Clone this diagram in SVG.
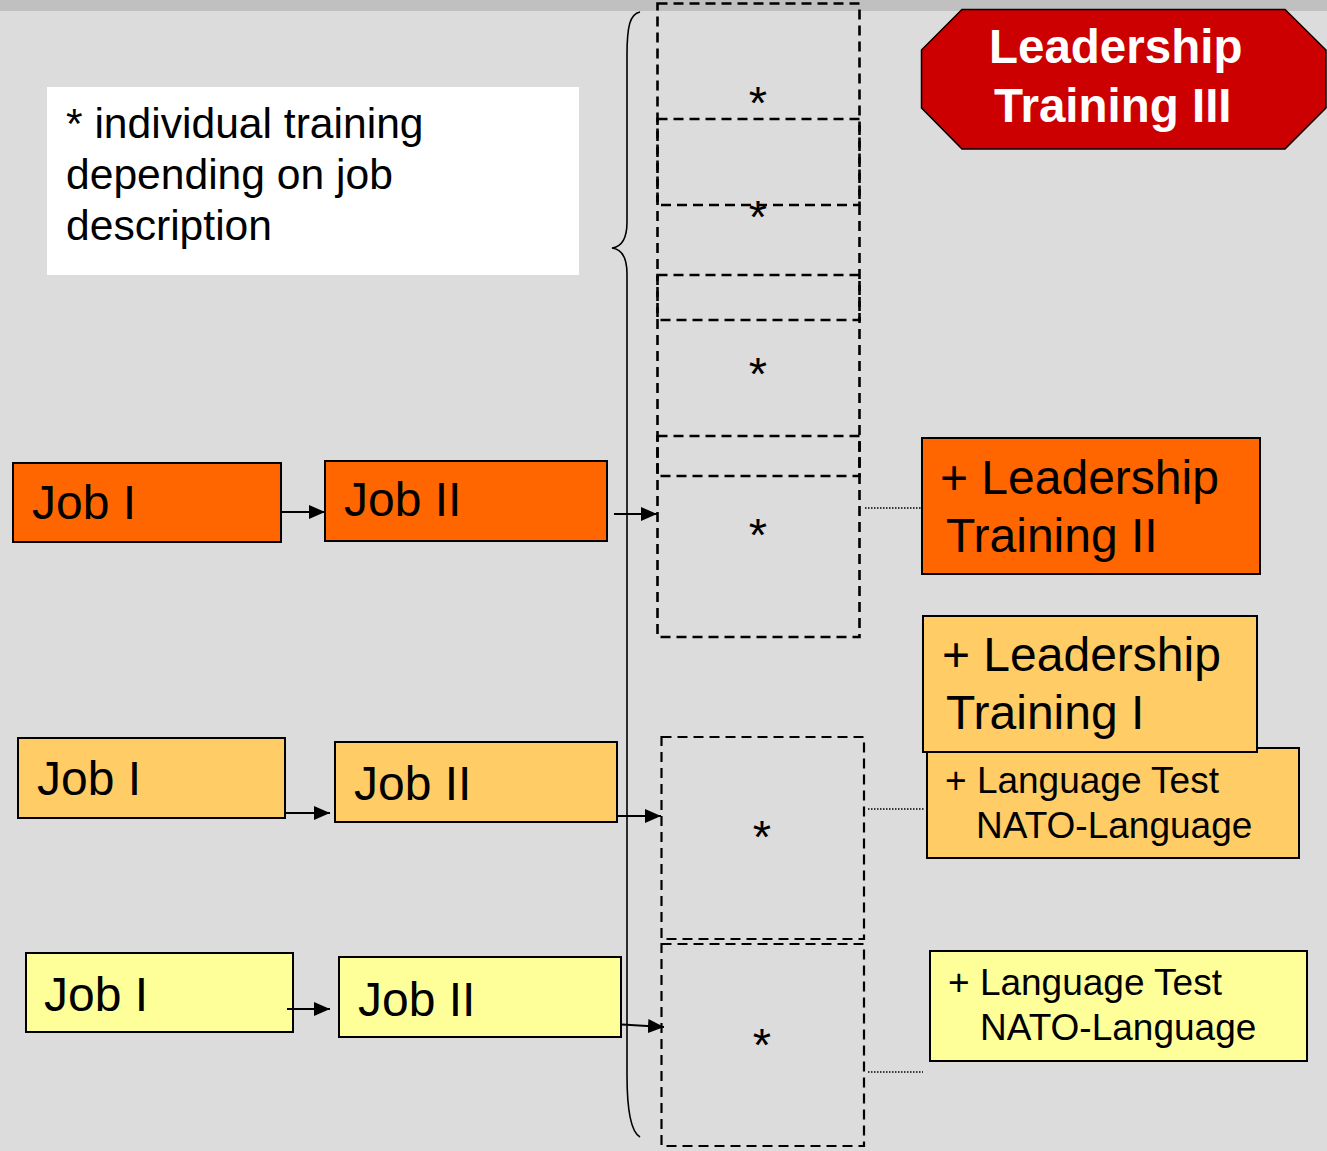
<svg xmlns="http://www.w3.org/2000/svg" width="1327" height="1151" viewBox="0 0 1327 1151">
<style>
.box{stroke:#000;stroke-width:2}
.t{font-family:"Liberation Sans",Arial,sans-serif;fill:#000}
.job{font-size:48px}
.lt{font-size:48px}
.lang{font-size:37px}
.star{font-family:"Liberation Sans",Arial,sans-serif;font-size:47px;text-anchor:middle}
.dash{fill:none;stroke:#000;stroke-width:2.6;stroke-dasharray:10,6}
.dash2{fill:none;stroke:#000;stroke-width:2.2;stroke-dasharray:10,6}
.arr{stroke:#000;stroke-width:2;fill:none;marker-end:url(#ah)}
.dot{stroke:#000;stroke-width:1.3;stroke-dasharray:1.5,1.5;fill:none}
</style>
<defs>
<marker id="ah" viewBox="0 0 16 14" refX="16" refY="7" markerWidth="16" markerHeight="14" orient="auto" markerUnits="userSpaceOnUse" preserveAspectRatio="none">
<path d="M0,0 L16,7 L0,14 z" fill="#000"/>
</marker>
</defs>
<rect x="0" y="0" width="1327" height="1151" fill="#DCDCDC"/>
<rect x="0" y="0" width="1327" height="11" fill="#C0C0C0"/>

<g id="note">
<rect x="47" y="87" width="532" height="188" fill="#FFFFFF"/>
<text class="t" font-size="42.6" x="66" y="138">* individual training</text>
<text class="t" font-size="42.6" x="66" y="189">depending on job</text>
<text class="t" font-size="42.6" x="66" y="240">description</text>
</g>

<g id="training-slots">
<rect class="dash" x="657.5" y="3.5" width="202" height="201.5"/>
<rect class="dash" x="657.5" y="119" width="202" height="201"/>
<rect class="dash" x="657.5" y="275" width="202" height="201"/>
<rect class="dash" x="657.5" y="436" width="202" height="201"/>
<text class="star" x="758" y="119">*</text>
<text class="star" x="758" y="233">*</text>
<text class="star" x="758" y="390">*</text>
<text class="star" x="758" y="551">*</text>
<rect class="dash2" x="661.5" y="737" width="202.5" height="202"/>
<rect class="dash2" x="661.5" y="944" width="202.5" height="202"/>
<text class="star" x="762" y="853">*</text>
<text class="star" x="762" y="1061">*</text>
</g>

<g id="brace">
<path d="M640,12 C630,14 627,26 627,55 L627,222 C627,240 620,247 612,248 C620,249 627,256 627,274 L627,1075 C627,1112 631,1132 640,1137" fill="none" stroke="#000" stroke-width="1.6"/>
</g>

<g id="job1-row1">
<rect class="box" x="13" y="463" width="268" height="79" fill="#FF6600"/>
<text class="t job" x="32" y="519">Job I</text>
</g>
<g id="job2-row1">
<rect class="box" x="325" y="461" width="282" height="80" fill="#FF6600"/>
<text class="t job" x="344" y="516">Job II</text>
</g>
<g id="job1-row2">
<rect class="box" x="18" y="738" width="267" height="80" fill="#FFCC66"/>
<text class="t job" x="37" y="795">Job I</text>
</g>
<g id="job2-row2">
<rect class="box" x="335" y="742" width="282" height="80" fill="#FFCC66"/>
<text class="t job" x="354" y="800">Job II</text>
</g>
<g id="job1-row3">
<rect class="box" x="26" y="953" width="267" height="79" fill="#FFFF99"/>
<text class="t job" x="44" y="1011">Job I</text>
</g>
<g id="job2-row3">
<rect class="box" x="339" y="957" width="282" height="80" fill="#FFFF99"/>
<text class="t job" x="358" y="1016">Job II</text>
</g>

<g id="lt3">
<polygon points="962,9.5 1285,9.5 1326,50 1326,108 1285,149 962,149 921.5,108 921.5,50" fill="#CC0000" stroke="#000" stroke-width="1.5"/>
<text class="t" x="989" y="63" font-size="47.5" font-weight="bold" style="fill:#FFFFFF">Leadership</text>
<text class="t" x="994" y="122" font-size="47.5" font-weight="bold" style="fill:#FFFFFF">Training III</text>
</g>
<g id="lt2">
<rect class="box" x="922" y="438" width="338" height="136" fill="#FF6600"/>
<text class="t lt" x="940" y="494">+ Leadership</text>
<text class="t lt" x="946" y="552">Training II</text>
</g>
<g id="lang2">
<rect class="box" x="927" y="748" width="372" height="110" fill="#FFCC66"/>
<text class="t lang" x="945" y="793">+ Language Test</text>
<text class="t lang" x="976" y="838">NATO-Language</text>
</g>
<g id="lt1">
<rect class="box" x="923" y="616" width="334" height="136" fill="#FFCC66"/>
<text class="t lt" x="942" y="671">+ Leadership</text>
<text class="t lt" x="946" y="729">Training I</text>
</g>
<g id="lang3">
<rect class="box" x="930" y="951" width="377" height="110" fill="#FFFF99"/>
<text class="t lang" x="948" y="995">+ Language Test</text>
<text class="t lang" x="980" y="1040">NATO-Language</text>
</g>

<g id="connectors">
<line class="arr" x1="282" y1="512" x2="325" y2="512"/>
<line class="arr" x1="614" y1="514" x2="657" y2="514"/>
<line class="arr" x1="286" y1="813" x2="330" y2="813"/>
<line class="arr" x1="617" y1="816" x2="661" y2="816"/>
<line class="arr" x1="287" y1="1009" x2="330" y2="1009"/>
<line class="arr" x1="622" y1="1024.5" x2="664" y2="1027"/>
<line class="dot" x1="865" y1="508" x2="921" y2="508"/>
<line class="dot" x1="868" y1="809" x2="925" y2="809"/>
<line class="dot" x1="868" y1="1072" x2="923" y2="1072"/>
</g>
</svg>
